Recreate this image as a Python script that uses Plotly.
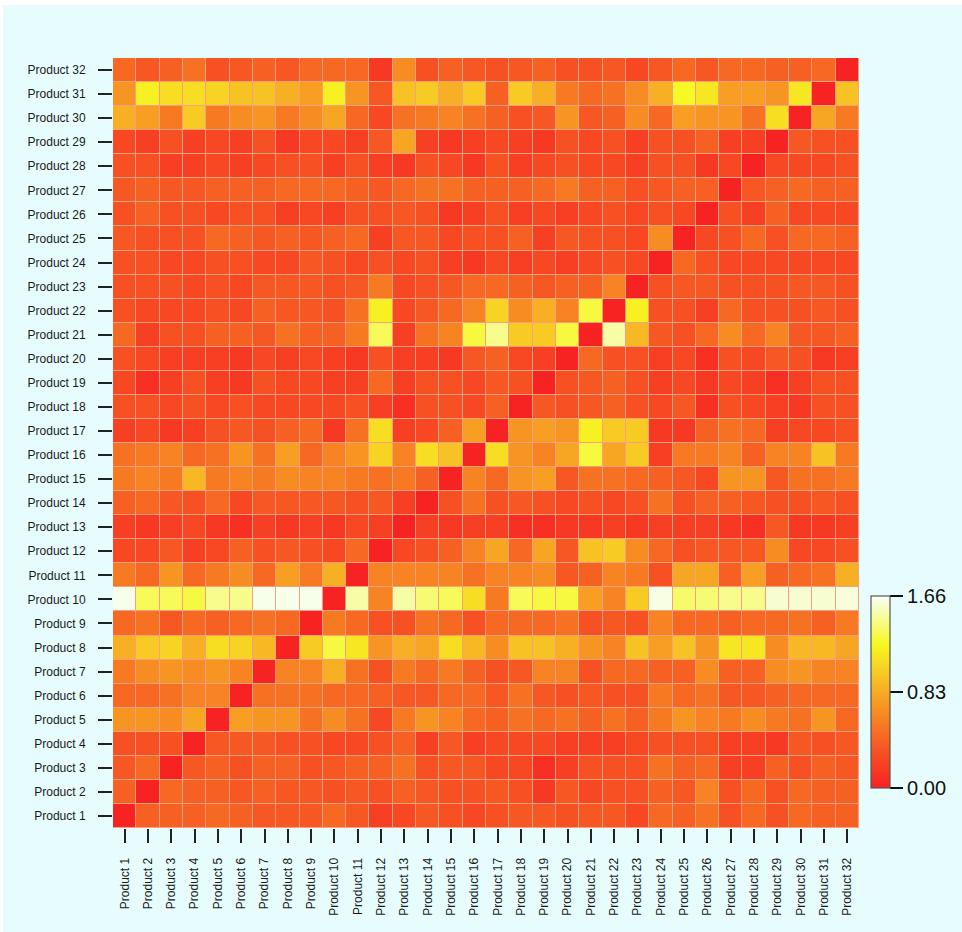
import plotly.graph_objects as go

products = [f"Product {i}" for i in range(1, 33)]

# values per row (Product 1 .. Product 32), columns Product 1 .. Product 32
row_01 = [0.0,0.4,0.4,0.4,0.45,0.4,0.35,0.35,0.35,0.45,0.35,0.2,0.25,0.35,0.3,0.25,0.3,0.35,0.35,0.3,0.35,0.35,0.25,0.45,0.4,0.5,0.3,0.45,0.3,0.45,0.4,0.4]
row_02 = [0.4,0.0,0.45,0.4,0.4,0.35,0.4,0.35,0.35,0.3,0.35,0.3,0.4,0.35,0.3,0.3,0.35,0.3,0.15,0.35,0.25,0.3,0.3,0.4,0.35,0.6,0.3,0.45,0.3,0.45,0.4,0.4]
row_03 = [0.35,0.45,0.0,0.35,0.4,0.3,0.4,0.4,0.3,0.35,0.4,0.4,0.5,0.3,0.35,0.35,0.25,0.25,0.1,0.2,0.3,0.3,0.3,0.5,0.4,0.45,0.2,0.2,0.4,0.3,0.4,0.35]
row_04 = [0.3,0.3,0.3,0.0,0.35,0.35,0.35,0.3,0.3,0.25,0.25,0.3,0.4,0.2,0.35,0.2,0.25,0.25,0.25,0.2,0.2,0.2,0.25,0.3,0.3,0.3,0.2,0.2,0.15,0.35,0.3,0.35]
row_05 = [0.7,0.7,0.65,0.8,0.0,0.75,0.7,0.7,0.5,0.65,0.5,0.25,0.55,0.7,0.6,0.45,0.4,0.5,0.45,0.5,0.4,0.5,0.4,0.55,0.7,0.6,0.55,0.65,0.55,0.5,0.7,0.45]
row_06 = [0.45,0.45,0.5,0.6,0.6,0.0,0.5,0.5,0.5,0.45,0.45,0.4,0.35,0.35,0.45,0.45,0.35,0.5,0.35,0.3,0.35,0.3,0.3,0.55,0.45,0.5,0.35,0.35,0.4,0.45,0.45,0.45]
row_07 = [0.55,0.65,0.7,0.65,0.7,0.6,0.0,0.6,0.6,0.85,0.5,0.3,0.55,0.45,0.55,0.4,0.3,0.35,0.6,0.6,0.3,0.45,0.45,0.4,0.4,0.65,0.4,0.4,0.65,0.7,0.6,0.6]
row_08 = [0.85,1.0,1.05,0.85,1.1,1.05,0.9,0.0,1.0,1.3,1.15,0.7,0.85,0.8,1.1,0.9,0.65,0.95,0.95,0.85,0.7,0.6,0.95,0.75,0.95,0.7,1.15,1.15,0.65,0.9,0.9,0.8]
row_09 = [0.45,0.5,0.35,0.45,0.4,0.45,0.5,0.45,0.0,0.55,0.45,0.3,0.3,0.5,0.45,0.3,0.45,0.45,0.45,0.5,0.3,0.35,0.3,0.6,0.45,0.45,0.4,0.45,0.45,0.5,0.4,0.55]
row_10 = [1.63,1.35,1.35,1.3,1.45,1.45,1.63,1.63,1.63,0.0,1.5,0.6,1.5,1.4,1.35,1.1,0.55,1.35,1.3,1.3,0.75,0.6,1.0,1.62,1.38,1.4,1.45,1.45,1.58,1.58,1.58,1.6]
row_11 = [0.55,0.45,0.7,0.45,0.55,0.65,0.45,0.75,0.55,0.85,0.0,0.6,0.6,0.6,0.6,0.5,0.6,0.6,0.65,0.35,0.4,0.6,0.55,0.3,0.8,0.8,0.4,0.75,0.4,0.45,0.5,0.85]
row_12 = [0.25,0.25,0.35,0.2,0.25,0.4,0.3,0.35,0.3,0.25,0.45,0.0,0.25,0.3,0.4,0.6,0.8,0.45,0.8,0.35,0.95,1.0,0.65,0.45,0.3,0.35,0.35,0.35,0.65,0.25,0.25,0.3]
row_13 = [0.2,0.15,0.2,0.25,0.15,0.1,0.2,0.15,0.2,0.15,0.25,0.2,0.0,0.2,0.15,0.2,0.2,0.1,0.1,0.15,0.15,0.2,0.15,0.2,0.2,0.2,0.15,0.1,0.35,0.15,0.15,0.2]
row_14 = [0.4,0.45,0.35,0.3,0.45,0.25,0.35,0.35,0.35,0.35,0.3,0.35,0.2,0.0,0.3,0.5,0.3,0.35,0.3,0.25,0.3,0.25,0.3,0.5,0.3,0.4,0.4,0.35,0.3,0.3,0.35,0.3]
row_15 = [0.55,0.6,0.55,0.9,0.55,0.6,0.55,0.65,0.6,0.6,0.55,0.5,0.55,0.4,0.0,0.6,0.45,0.7,0.75,0.35,0.5,0.5,0.45,0.4,0.35,0.25,0.7,0.7,0.35,0.5,0.5,0.55]
row_16 = [0.5,0.55,0.6,0.45,0.5,0.7,0.5,0.75,0.45,0.6,0.7,1.05,0.6,1.1,0.95,0.0,1.1,0.7,0.6,0.8,1.3,0.8,1.0,0.2,0.55,0.55,0.6,0.4,0.6,0.6,0.95,0.55]
row_17 = [0.2,0.25,0.15,0.2,0.3,0.35,0.3,0.4,0.45,0.15,0.5,1.1,0.2,0.25,0.4,0.75,0.0,0.7,0.75,0.7,1.2,1.0,1.0,0.15,0.15,0.4,0.5,0.45,0.2,0.25,0.25,0.3]
row_18 = [0.3,0.3,0.25,0.3,0.25,0.3,0.25,0.25,0.25,0.25,0.3,0.2,0.1,0.3,0.3,0.25,0.4,0.0,0.35,0.3,0.35,0.4,0.3,0.25,0.35,0.1,0.3,0.25,0.2,0.15,0.3,0.3]
row_19 = [0.25,0.1,0.2,0.3,0.2,0.15,0.3,0.25,0.25,0.2,0.2,0.45,0.2,0.3,0.3,0.25,0.35,0.3,0.0,0.3,0.35,0.4,0.3,0.2,0.25,0.15,0.25,0.2,0.1,0.2,0.3,0.3]
row_20 = [0.3,0.25,0.2,0.2,0.2,0.15,0.25,0.2,0.25,0.2,0.15,0.3,0.2,0.2,0.15,0.35,0.4,0.25,0.2,0.0,0.45,0.3,0.3,0.2,0.25,0.1,0.3,0.25,0.35,0.3,0.15,0.2]
row_21 = [0.45,0.2,0.3,0.3,0.4,0.4,0.35,0.5,0.4,0.4,0.55,1.35,0.2,0.5,0.6,1.3,1.45,1.0,1.0,1.3,0.0,1.5,0.9,0.35,0.3,0.45,0.65,0.45,0.6,0.35,0.35,0.4]
row_22 = [0.3,0.25,0.25,0.25,0.3,0.25,0.4,0.35,0.35,0.3,0.5,1.2,0.25,0.35,0.45,0.6,1.05,0.65,0.85,0.6,1.3,0.0,1.2,0.3,0.3,0.2,0.45,0.3,0.3,0.3,0.35,0.3]
row_23 = [0.3,0.3,0.3,0.25,0.3,0.25,0.35,0.35,0.35,0.3,0.35,0.55,0.25,0.3,0.35,0.45,0.45,0.4,0.35,0.4,0.4,0.6,0.0,0.3,0.35,0.35,0.3,0.3,0.3,0.35,0.35,0.3]
row_24 = [0.3,0.3,0.25,0.25,0.3,0.3,0.25,0.25,0.35,0.3,0.25,0.3,0.25,0.3,0.2,0.15,0.25,0.2,0.25,0.2,0.25,0.3,0.25,0.0,0.45,0.3,0.25,0.25,0.25,0.25,0.25,0.25]
row_25 = [0.35,0.3,0.3,0.3,0.45,0.4,0.35,0.4,0.35,0.4,0.45,0.2,0.35,0.35,0.25,0.3,0.3,0.4,0.2,0.35,0.3,0.3,0.25,0.65,0.0,0.25,0.3,0.45,0.3,0.45,0.45,0.4]
row_26 = [0.3,0.4,0.3,0.3,0.25,0.3,0.3,0.2,0.25,0.2,0.3,0.3,0.35,0.3,0.15,0.2,0.3,0.2,0.25,0.2,0.25,0.3,0.25,0.3,0.25,0.0,0.3,0.2,0.4,0.25,0.25,0.25]
row_27 = [0.35,0.4,0.35,0.35,0.4,0.4,0.4,0.45,0.45,0.45,0.4,0.35,0.45,0.5,0.5,0.4,0.4,0.4,0.45,0.55,0.4,0.4,0.3,0.35,0.4,0.4,0.0,0.35,0.4,0.45,0.4,0.4]
row_28 = [0.3,0.3,0.2,0.2,0.25,0.2,0.25,0.3,0.3,0.2,0.3,0.2,0.15,0.3,0.25,0.15,0.3,0.2,0.25,0.3,0.25,0.25,0.2,0.3,0.3,0.15,0.25,0.0,0.25,0.25,0.25,0.3]
row_29 = [0.25,0.2,0.3,0.2,0.25,0.2,0.3,0.15,0.25,0.25,0.2,0.35,0.8,0.2,0.15,0.2,0.25,0.2,0.15,0.3,0.25,0.3,0.2,0.3,0.3,0.4,0.2,0.2,0.0,0.35,0.3,0.3]
row_30 = [0.85,0.75,0.55,1.0,0.55,0.65,0.7,0.55,0.65,0.8,0.45,0.25,0.5,0.55,0.6,0.5,0.4,0.3,0.35,0.7,0.35,0.4,0.65,0.45,0.75,0.7,0.7,0.5,1.1,0.0,0.8,0.55]
row_31 = [0.7,1.2,1.1,1.1,1.05,0.95,0.95,0.85,0.75,1.2,0.7,0.35,0.95,1.0,0.85,1.0,0.4,1.0,0.85,0.55,0.45,0.5,0.65,0.85,1.25,1.15,0.75,0.75,0.7,1.15,0.0,0.95]
row_32 = [0.45,0.35,0.4,0.5,0.3,0.35,0.4,0.35,0.45,0.45,0.45,0.15,0.65,0.3,0.4,0.35,0.3,0.35,0.4,0.3,0.3,0.35,0.25,0.35,0.45,0.35,0.45,0.45,0.4,0.4,0.45,0.0]

z_rows = [row_01, row_02, row_03, row_04, row_05, row_06, row_07, row_08,
          row_09, row_10, row_11, row_12, row_13, row_14, row_15, row_16,
          row_17, row_18, row_19, row_20, row_21, row_22, row_23, row_24,
          row_25, row_26, row_27, row_28, row_29, row_30, row_31, row_32]

z_min, z_max = 0.0, 1.66
cbar_ticks = [0.0, 0.83, 1.66]
cbar_text = ["0.00", "0.83", "1.66"]

BG = (231, 253, 253)
ALPHA = 0.86


def heat(f):
    # R heat.colors-like ramp, softened as in the reference
    if f <= 0.75:
        r, g, b = 250, 248 * (f / 0.75) ** 1.1, 0
    else:
        s = 1 - (f - 0.75) / 0.25 * 0.97
        r, g, b = 250, 248 + 7 * (1 - s), 255 * (1 - s)
    r = ALPHA * r + (1 - ALPHA) * BG[0]
    g = ALPHA * g + (1 - ALPHA) * BG[1]
    b = ALPHA * b + (1 - ALPHA) * BG[2]
    return f"rgb({r:.0f},{g:.0f},{b:.0f})"


n_stops = 41
colorscale = [[i / (n_stops - 1), heat(i / (n_stops - 1))] for i in range(n_stops)]

W, H = 962, 932
L, R, T, B = 113, 103, 58, 104
pw, ph = W - L - R, H - T - B

bar_left, bar_top, bar_bottom, bar_thick = 871, 596, 788, 19

fig = go.Figure(
    go.Heatmap(
        x=products,
        y=products,
        z=z_rows,
        zmin=z_min,
        zmax=z_max,
        colorscale=colorscale,
        xgap=1,
        ygap=1,
        hoverongaps=False,
        colorbar=dict(
            thickness=bar_thick,
            thicknessmode="pixels",
            len=bar_bottom - bar_top,
            lenmode="pixels",
            x=(bar_left - L) / pw,
            xanchor="left",
            xpad=0,
            ypad=0,
            y=(H - B - (bar_top + bar_bottom) / 2) / ph,
            yanchor="middle",
            outlinecolor="#555555",
            outlinewidth=1.2,
            tickvals=cbar_ticks,
            ticktext=cbar_text,
            ticks="outside",
            ticklen=13,
            tickwidth=1.5,
            tickcolor="#111111",
            tickfont=dict(family="Liberation Sans, Arial, sans-serif", size=20, color="#111111"),
        ),
    )
)

mid_y = (H - B - (bar_bottom - (bar_bottom - bar_top) * 0.5)) / ph

fig.update_layout(
    width=W,
    height=H,
    margin=dict(l=L, r=R, t=T, b=B, pad=0),
    paper_bgcolor="rgb(231,253,253)",
    plot_bgcolor="rgb(246,160,130)",
    font=dict(family="Liberation Sans, Arial, sans-serif", size=12, color="#1a1a1a"),
    xaxis=dict(
        tickangle=-90,
        ticks="outside",
        ticklen=14,
        tickwidth=1.5,
        tickcolor="#222222",
        showgrid=False,
        zeroline=False,
        showline=False,
        ticklabelstandoff=10,
        tickfont=dict(size=12),
        fixedrange=True,
    ),
    yaxis=dict(
        ticks="outside",
        ticklen=14,
        tickwidth=1.5,
        tickcolor="#222222",
        showgrid=False,
        zeroline=False,
        showline=False,
        ticklabelstandoff=10,
        tickfont=dict(size=12),
        fixedrange=True,
    ),
    shapes=[
        dict(type="line", xref="paper", yref="paper",
             x0=(bar_left - L) / pw, x1=(bar_left + bar_thick - L) / pw,
             y0=mid_y, y1=mid_y, line=dict(color="#111111", width=1.5)),
        dict(type="rect", xref="paper", yref="paper",
             x0=-L / pw, x1=(W - L) / pw, y0=(H - B - 5) / ph, y1=(H - B) / ph,
             fillcolor="white", line=dict(width=0)),
        dict(type="rect", xref="paper", yref="paper",
             x0=-L / pw, x1=(3 - L) / pw, y0=-B / ph, y1=(H - B) / ph,
             fillcolor="white", line=dict(width=0)),
    ],
)

fig.write_html("out.html")
